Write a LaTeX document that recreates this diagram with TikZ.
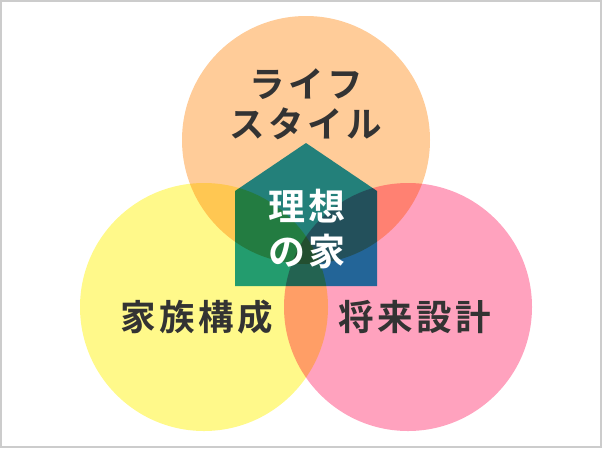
\documentclass[tikz,border=0pt]{standalone}
\usepackage{fontspec}
\usepackage{xcolor}
\newfontfamily\jpfont{Noto Sans CJK JP}[BoldFont={* Bold}, LetterSpace=10]

\definecolor{lifeorange}{HTML}{FFCC99}
\definecolor{familyyellow}{HTML}{FFF98A}
\definecolor{futurepink}{HTML}{FFA2BE}
\definecolor{housecyan}{HTML}{23A0CC}
\definecolor{labelgray}{HTML}{333333}

\begin{document}
\begin{tikzpicture}[x=1pt, y=-1pt,
    label/.style={font=\jpfont\bfseries\fontsize{35.5}{40}\selectfont, text=labelgray, align=center, inner sep=0pt},
    houselabel/.style={font=\jpfont\bfseries\fontsize{37}{45}\selectfont, text=white, align=center, inner sep=0pt}]
    \useasboundingbox (0,0) rectangle (602,448);
    % Frame
    \draw[gray!40, line width=1.5pt] (1,1) rectangle (601,447);

    % Three circles and the house, multiplied
    \begin{scope}[blend group=multiply]
        \fill[lifeorange] (306,140) circle (124);
        \fill[familyyellow] (204,307) circle (124);
        \fill[futurepink] (408,307) circle (124);
        \fill[housecyan] (306,143) -- (377,191) -- (377,286) -- (235,286) -- (235,191) -- cycle;
    \end{scope}

    \node[label] (life) at (306,104) {ライフ\\スタイル};
    \node[label] (family) at (197,317) {家族構成};
    \node[label] (future) at (415,317) {将来設計};
    \node[houselabel] (ideal) at (307,229) {理想\\の家};
\end{tikzpicture}
\end{document}
